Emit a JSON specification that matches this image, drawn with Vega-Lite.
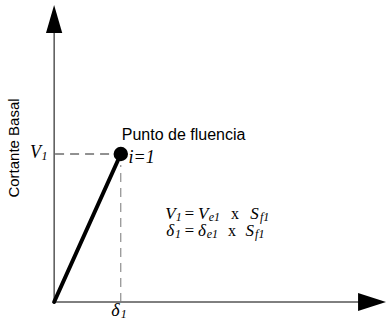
{
  "$schema": "https://vega.github.io/schema/vega-lite/v6.json",
  "width": 386,
  "height": 322,
  "padding": 0,
  "autosize": {"type": "fit", "contains": "padding"},
  "background": "white",
  "config": {"view": {"stroke": null}},
  "encoding": {
    "x": {"field": "d", "type": "quantitative", "scale": {"domain": [-56, 330], "nice": false, "zero": false}, "axis": null},
    "y": {"field": "v", "type": "quantitative", "scale": {"domain": [-20, 302], "nice": false, "zero": false}, "axis": null}
  },
  "layer": [
    {
      "data": {"values": [{"d": 0, "v": 0, "d2": 0, "v2": 290}, {"d": 0, "v": 0, "d2": 320, "v2": 0}]},
      "mark": {"type": "rule", "color": "black", "strokeWidth": 1},
      "encoding": {"x2": {"field": "d2"}, "y2": {"field": "v2"}}
    },
    {
      "data": {"values": [{"d": 1, "v": 148, "d2": 60, "v2": 148}]},
      "mark": {"type": "rule", "color": "#222", "strokeWidth": 1, "strokeDash": [9, 6]},
      "encoding": {"x2": {"field": "d2"}, "y2": {"field": "v2"}}
    },
    {
      "data": {"values": [{"d": 69, "v": 0, "d2": 69, "v2": 137}]},
      "mark": {"type": "rule", "color": "#777", "strokeWidth": 1, "strokeDash": [9, 6]},
      "encoding": {"x2": {"field": "d2"}, "y2": {"field": "v2"}}
    },
    {
      "data": {"values": [{"d": 0, "v": 0}, {"d": 69, "v": 148}]},
      "mark": {"type": "line", "color": "black", "strokeWidth": 4, "strokeCap": "round"},
      "encoding": {}
    },
    {
      "data": {"values": [{"d": 69, "v": 148}]},
      "mark": {"type": "point", "shape": "circle", "filled": true, "color": "black", "size": 210, "opacity": 1},
      "encoding": {}
    },
    {
      "data": {"values": [{"d": 0, "v": 283}]},
      "mark": {"type": "point", "shape": "M0,-1L0.58,1L-0.58,1Z", "filled": true, "color": "black", "size": 784, "opacity": 1},
      "encoding": {}
    },
    {
      "data": {"values": [{"d": 329, "v": 0}]},
      "mark": {"type": "point", "shape": "M1,0L-1,0.64L-1,-0.64Z", "filled": true, "color": "black", "size": 784, "opacity": 1},
      "encoding": {}
    },
    {
      "data": {"values": [{"d": -41, "v": 154, "t": "Cortante Basal"}]},
      "mark": {"type": "text", "font": "Liberation Sans", "fontSize": 15, "angle": 270, "align": "center", "baseline": "middle", "color": "black"},
      "encoding": {"text": {"field": "t"}}
    },
    {
      "data": {"values": [{"d": 70, "v": 162, "t": "Punto de fluencia"}]},
      "mark": {"type": "text", "font": "Liberation Sans", "fontSize": 16, "align": "left", "baseline": "alphabetic", "color": "black"},
      "encoding": {"text": {"field": "t"}}
    },
    {
      "data": {"values": [
        {"d": -25, "v": 144, "t": "V"},
        {"d": 77, "v": 139, "t": "i=1"},
        {"d": 59, "v": -14, "t": "δ"}
      ]},
      "mark": {"type": "text", "font": "Liberation Serif", "fontStyle": "italic", "fontSize": 18, "align": "left", "baseline": "alphabetic", "color": "black"},
      "encoding": {"text": {"field": "t"}}
    },
    {
      "data": {"values": [
        {"d": -13, "v": 142, "t": "1"},
        {"d": 69, "v": -16, "t": "1"}
      ]},
      "mark": {"type": "text", "font": "Liberation Serif", "fontStyle": "italic", "fontSize": 12, "align": "left", "baseline": "alphabetic", "color": "black"},
      "encoding": {"text": {"field": "t"}}
    },
    {
      "data": {"values": [
        {"d": 115, "v": 83, "t": "V"},
        {"d": 134, "v": 83, "t": "="},
        {"d": 149, "v": 83, "t": "V"},
        {"d": 203, "v": 83, "t": "S"},
        {"d": 116, "v": 66, "t": "δ"},
        {"d": 134, "v": 66, "t": "="},
        {"d": 149, "v": 66, "t": "δ"},
        {"d": 198, "v": 66, "t": "S"}
      ]},
      "mark": {"type": "text", "font": "Liberation Serif", "fontStyle": "italic", "fontSize": 17, "align": "left", "baseline": "alphabetic", "color": "black"},
      "encoding": {"text": {"field": "t"}}
    },
    {
      "data": {"values": [
        {"d": 183, "v": 83, "t": "x"},
        {"d": 180, "v": 66, "t": "x"}
      ]},
      "mark": {"type": "text", "font": "Liberation Serif", "fontSize": 16, "align": "left", "baseline": "alphabetic", "color": "black"},
      "encoding": {"text": {"field": "t"}}
    },
    {
      "data": {"values": [
        {"d": 126, "v": 81, "t": "1"},
        {"d": 160, "v": 81, "t": "e1"},
        {"d": 213, "v": 81, "t": "f1"},
        {"d": 125, "v": 64, "t": "1"},
        {"d": 158, "v": 64, "t": "e1"},
        {"d": 208, "v": 64, "t": "f1"}
      ]},
      "mark": {"type": "text", "font": "Liberation Serif", "fontStyle": "italic", "fontSize": 12, "align": "left", "baseline": "alphabetic", "color": "black"},
      "encoding": {"text": {"field": "t"}}
    }
  ]
}
